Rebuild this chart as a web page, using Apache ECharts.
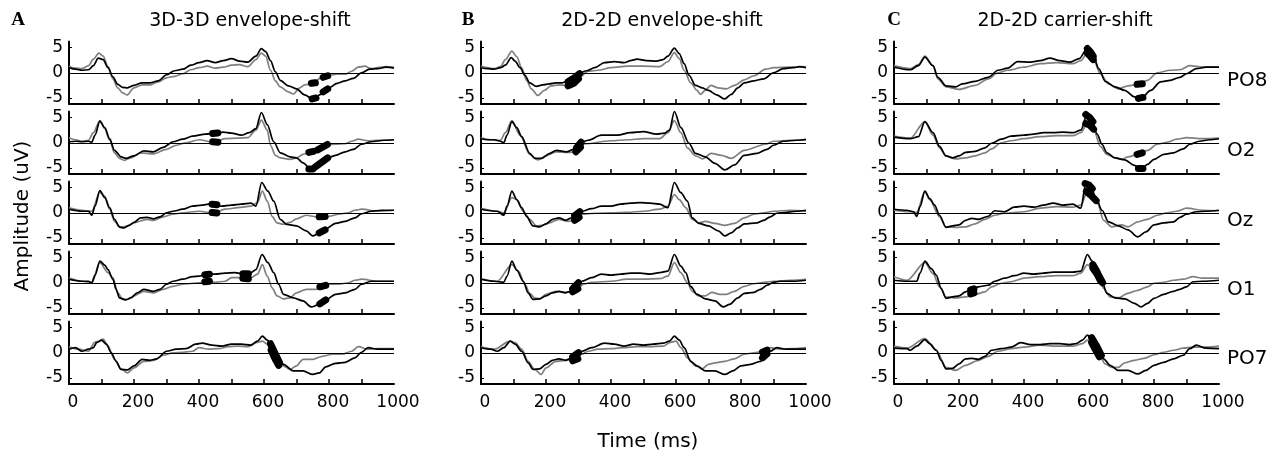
<!DOCTYPE html>
<html><head><meta charset="utf-8">
<script src="https://cdn.jsdelivr.net/npm/echarts@6/dist/echarts.min.js"></script>
<style>html,body{margin:0;padding:0;background:#fff}#c{width:1285px;height:455px}</style>
</head><body><div id="c"></div>
<script>
// ---------- DATA (time in ms, amplitude in uV) ----------
const columns = ['A','B','C'];
const columnTitles = ['3D-3D envelope-shift','2D-2D envelope-shift','2D-2D carrier-shift'];
const channels = ['PO8','O2','Oz','O1','PO7'];
const xTickValues = [100,200,300,400,500,600,700,800,900];
const xLabelValues = [0,200,400,600,800,1000];
const yTickValues = [-5,0,5];

// Column A
const A_PO8_k = [[0,1.0],[20,0.7],[40,0.5],[60,0.6],[75,1.4],[90,2.9],[105,2.6],[120,1.0],[135,-0.8],[150,-2.3],[165,-2.9],[180,-3.0],[200,-2.5],[225,-2.0],[250,-2.0],[275,-1.6],[300,-0.4],[325,0.4],[350,0.7],[375,1.5],[400,2.0],[425,2.4],[450,2.0],[475,2.4],[500,2.8],[525,2.3],[550,2.1],[575,3.3],[592,4.8],[605,4.2],[620,2.4],[635,0.2],[650,-1.5],[675,-2.6],[700,-3.2],[725,-4.4],[750,-5.2],[775,-4.3],[800,-3.0],[825,-2.1],[850,-1.6],[875,-1.1],[900,0],[925,0.7],[950,0.8],[975,1.1],[1000,0.9]];
const A_PO8_g = [[0,1.3],[20,0.9],[40,0.8],[60,1.4],[75,2.7],[92,3.9],[105,3.3],[120,1.2],[135,-1.2],[150,-3.0],[165,-4.0],[178,-4.4],[200,-3.0],[225,-2.4],[250,-2.4],[275,-1.8],[300,-1.0],[325,-0.7],[350,-0.2],[375,0.6],[400,1.0],[425,1.3],[450,0.9],[475,1.1],[500,1.5],[525,1.6],[550,1.2],[575,2.6],[592,3.9],[605,3.3],[620,0.5],[635,-1.6],[650,-2.8],[675,-3.8],[690,-4.2],[710,-3.0],[725,-2.4],[750,-2.1],[775,-1.0],[800,-0.5],[825,-0.3],[850,-0.3],[870,0.3],[890,1.1],[910,1.3],[930,0.8],[950,1.0],[975,1.2],[1000,1.1]];
const A_PO8_sig = [[[748,-5.2],[760,-5.0]],[[782,-3.8],[796,-3.2]],[[746,-2.1],[758,-2.0]],[[782,-0.9],[796,-0.6]]];

const A_O2_k = [[0,0.2],[20,0.3],[40,0.2],[60,0.3],[70,0.1],[80,1.5],[95,4.3],[110,3.0],[125,0.8],[140,-1.5],[160,-2.8],[175,-3.1],[200,-2.6],[230,-1.6],[260,-1.8],[290,-0.9],[320,0.2],[350,0.7],[380,1.3],[420,1.7],[450,1.9],[475,2.1],[500,1.9],[530,1.5],[555,2.0],[575,2.8],[592,6.0],[610,3.6],[630,0.2],[650,-2.0],[680,-2.8],[700,-3.0],[720,-4.0],[745,-5.3],[770,-4.3],[790,-3.2],[820,-2.5],[850,-1.8],[875,-1.3],[900,-0.3],[930,0.2],[970,0.5],[1000,0.6]];
const A_O2_g = [[0,1.0],[20,0.6],[40,0.3],[60,0.5],[75,2.0],[95,4.4],[110,2.8],[125,0.5],[140,-2.0],[155,-3.1],[170,-3.5],[190,-3.0],[220,-2.0],[260,-2.2],[300,-1.3],[330,-0.5],[360,0],[400,0.6],[445,0.1],[480,0.8],[520,0.9],[550,1.0],[575,2.5],[592,4.5],[610,2.5],[620,-0.5],[635,-2.5],[650,-3.0],[680,-3.3],[700,-3.0],[720,-2.3],[745,-1.8],[770,-1.3],[790,-0.4],[820,-0.3],[850,-0.2],[870,0.3],[890,0.7],[920,0.4],[950,0.5],[1000,0.6]];
const A_O2_sig = [[[442,1.85],[458,1.95]],[[442,0.2],[458,0.1]],[[738,-5.2],[750,-5.2]],[[758,-4.8],[796,-3.0]],[[738,-1.9],[752,-1.7]],[[765,-1.4],[795,-0.35]]];

const A_Oz_k = [[0,0.7],[40,0.3],[60,0.3],[70,-0.5],[80,1.3],[95,4.4],[110,3.0],[125,1.0],[140,-1.3],[155,-2.8],[170,-3.0],[185,-2.5],[200,-1.9],[220,-1.0],[240,-0.9],[260,-1.2],[280,-0.8],[300,0],[320,0.3],[350,0.7],[380,1.3],[410,1.5],[440,1.8],[470,1.3],[500,1.5],[530,1.7],[560,1.9],[575,1.3],[593,6.0],[612,4.3],[630,2.3],[650,-1.3],[670,-2.3],[700,-2.6],[730,-3.6],[750,-4.6],[770,-4.0],[790,-3.2],[820,-2.1],[850,-1.7],[880,-1.0],[900,-0.2],[930,0.3],[960,0.5],[1000,0.5]];
const A_Oz_g = [[0,1.0],[40,0.5],[70,0.3],[95,4.1],[110,3.3],[125,0.7],[140,-1.7],[160,-3.0],[180,-2.6],[200,-2.0],[240,-1.3],[260,-1.5],[290,-0.8],[320,-0.3],[350,0],[400,0.3],[445,-0.1],[480,0.7],[520,1.0],[560,1.3],[580,2.0],[595,4.3],[610,2.3],[625,-0.7],[640,-2.0],[660,-2.3],[680,-1.9],[700,-1.2],[730,-0.5],[760,-0.8],[780,-0.8],[800,-0.7],[830,-0.3],[860,0],[880,0.5],[900,0.7],[950,0.3],[1000,0.5]];
const A_Oz_sig = [[[440,1.7],[455,1.6]],[[440,0.05],[455,-0.05]],[[770,-4.0],[788,-3.4]],[[770,-0.8],[788,-0.75]]];

const A_O1_k = [[0,0.7],[40,0.3],[60,0.3],[70,0],[80,1.5],[95,4.3],[110,3.5],[120,2.6],[135,0.7],[145,-1.3],[155,-3.0],[175,-3.4],[190,-3.0],[210,-2.0],[230,-1.3],[260,-1.7],[280,-1.3],[300,-0.3],[320,0.3],[350,0.7],[380,1.2],[400,1.3],[425,1.7],[450,1.7],[480,1.9],[510,2.0],[540,1.7],[560,2.0],[575,2.6],[594,5.6],[612,4.0],[630,2.0],[645,-0.3],[660,-2.3],[690,-3.0],[720,-3.6],[745,-4.8],[770,-4.3],[790,-3.4],[820,-2.3],[850,-2.0],[880,-1.3],[900,-0.3],[930,0.3],[960,0.3],[1000,0.3]];
const A_O1_g = [[0,1.0],[40,0.3],[70,0],[95,4.0],[120,2.0],[135,1.0],[150,-2.0],[165,-3.3],[180,-3.3],[200,-2.6],[230,-1.7],[260,-2.0],[290,-1.3],[320,-0.7],[350,-0.3],[400,0],[425,0.3],[450,0.1],[480,0.3],[500,1.0],[530,1.0],[545,0.7],[560,1.0],[580,1.7],[595,3.6],[610,1.3],[625,-1.0],[640,-2.6],[660,-3.2],[680,-3.0],[700,-2.0],[730,-1.3],[760,-1.3],[780,-0.8],[800,-0.3],[830,-0.3],[860,0],[880,0.5],[900,0.7],[950,0.3],[1000,0.3]];
const A_O1_sig = [[[418,1.6],[432,1.7]],[[418,0.2],[432,0.3]],[[535,1.8],[552,1.8]],[[535,0.9],[552,0.8]],[[772,-4.2],[790,-3.4]],[[772,-0.8],[790,-0.5]]];

const A_PO7_k = [[0,0.7],[20,1.0],[40,0.3],[60,0.7],[75,1.0],[85,2.0],[100,2.5],[115,1.7],[130,0],[145,-1.7],[160,-3.3],[180,-3.4],[200,-2.6],[225,-1.3],[250,-1.5],[270,-1.2],[300,0.3],[330,0.7],[360,0.8],[390,1.7],[410,1.9],[440,1.5],[470,1.3],[500,1.7],[530,1.7],[560,1.5],[580,2.3],[595,3.3],[610,2.5],[625,1.3],[640,-1.3],[660,-2.3],[690,-3.6],[720,-3.6],[750,-4.3],[770,-4.0],[790,-2.8],[820,-2.1],[850,-1.9],[880,-1.0],[900,0.1],[920,1.0],[950,0.7],[1000,0.7]];
const A_PO7_g = [[0,1.2],[30,0.7],[60,0.3],[80,2.1],[95,2.3],[105,2.7],[120,1.3],[140,-1.3],[160,-3.2],[180,-4.0],[200,-3.0],[230,-1.7],[260,-1.5],[290,-0.5],[320,0],[350,0.1],[380,0.3],[400,1.0],[430,0.7],[460,0.8],[490,1.2],[520,1.3],[550,1.2],[575,2.0],[595,2.3],[610,1.7],[625,0],[640,-2.3],[660,-2.6],[680,-3.3],[700,-2.6],[720,-1.3],[750,-1.3],[780,-0.7],[810,-0.3],[840,-0.3],[870,0.3],[890,1.2],[920,0.7],[950,0.8],[1000,0.8]];
const A_PO7_sig = [[[620,1.8],[633,0.0],[648,-2.0]],[[622,0.5],[634,-1.2],[645,-2.5]]];

// Column B
const B_PO8_k = [[0,1.0],[20,0.8],[40,0.7],[60,1.0],[75,1.5],[93,3.0],[105,2.3],[120,1.0],[135,-0.5],[150,-2.0],[170,-2.7],[190,-2.4],[210,-2.2],[230,-2.0],[250,-2.0],[270,-1.6],[290,-0.7],[305,0],[325,0.4],[350,1.0],[380,2.0],[410,2.2],[440,2.0],[460,2.4],[480,2.7],[510,2.4],[540,2.3],[560,2.6],[575,3.3],[595,4.9],[610,3.8],[625,1.8],[640,-0.5],[660,-2.5],[680,-3.0],[700,-3.5],[725,-4.4],[750,-5.2],[770,-4.3],[790,-3.0],[810,-2.0],[840,-1.6],[870,-1.2],[900,0],[930,0.8],[960,1.0],[980,1.2],[1000,1.0]];
const B_PO8_g = [[0,1.4],[20,1.0],[40,0.8],[60,1.2],[75,2.6],[95,4.3],[110,3.2],[125,1.0],[140,-1.5],[155,-3.2],[175,-4.5],[195,-3.5],[215,-2.6],[240,-2.4],[260,-2.5],[280,-2.0],[300,-1.0],[330,0.3],[360,0.5],[400,1.0],[450,1.3],[500,1.3],[550,1.2],[575,2.2],[595,4.0],[610,2.8],[625,0.5],[645,-2.0],[665,-3.5],[675,-4.3],[690,-3.5],[707,-2.5],[730,-3.0],[754,-3.2],[780,-2.5],[810,-1.4],[840,-0.6],[876,0.7],[900,1.0],[950,1.1],[1000,1.2]];
const B_PO8_sig = [[[268,-1.8],[290,-0.9],[303,-0.2]],[[268,-2.6],[285,-2.1],[300,-1.2]]];

const B_O2_k = [[0,0.8],[20,0.6],[40,0.6],[60,0.3],[70,0],[80,1.5],[95,4.2],[110,3.0],[125,1.2],[150,-2.1],[165,-3.1],[186,-3.1],[212,-2.1],[232,-1.5],[263,-1.8],[293,-1.1],[308,0.1],[330,0.5],[370,1.5],[420,1.5],[460,2.0],[500,2.2],[540,1.7],[565,1.9],[580,2.5],[595,6.2],[615,3.0],[640,-0.1],[660,-2.1],[690,-2.8],[720,-4.1],[750,-5.4],[780,-4.4],[810,-2.5],[850,-2.1],[880,-1.3],[900,-0.5],[930,0.3],[970,0.5],[1000,0.7]];
const B_O2_g = [[0,1.0],[30,0.6],[60,0.5],[75,2.0],[95,4.4],[120,1.5],[150,-2.3],[175,-3.4],[200,-2.6],[230,-1.8],[270,-1.9],[290,-1.8],[305,-1.0],[320,-0.2],[400,0.4],[450,0.6],[500,0.8],[550,0.8],[575,2.0],[595,4.4],[615,2.0],[635,-1.0],[660,-2.6],[682,-3.2],[708,-2.1],[740,-2.5],[770,-3.1],[810,-1.5],[876,-0.3],[900,0.3],[950,0.5],[1000,0.5]];
const B_O2_sig = [[[294,-1.0],[308,0.1]],[[292,-1.8],[306,-0.9]]];

const B_Oz_k = [[0,0.7],[50,0.3],[70,-0.5],[80,1.3],[95,4.3],[110,2.6],[125,1.0],[140,-0.7],[160,-2.6],[180,-2.8],[200,-2.2],[220,-1.3],[240,-1.0],[260,-1.5],[280,-1.0],[295,-0.4],[310,0.3],[340,0.8],[370,1.3],[400,1.3],[430,1.7],[460,1.9],[490,2.0],[520,1.9],[550,1.7],[575,1.0],[595,6.0],[615,4.0],[635,2.3],[650,-1.0],[670,-2.1],[700,-2.6],[730,-3.6],[750,-4.6],[770,-4.0],[790,-3.0],[810,-2.2],[850,-2.0],[870,-1.5],[890,-0.8],[910,-0.1],[940,0.1],[970,0.3],[1000,0.5]];
const B_Oz_g = [[0,0.9],[50,0.3],[70,0],[95,3.0],[110,2.6],[130,0.3],[150,-1.3],[170,-2.6],[190,-2.5],[210,-2.0],[240,-1.3],[270,-1.7],[290,-1.4],[310,-0.3],[350,-0.1],[400,0],[450,0.1],[500,0.3],[550,0.7],[575,1.3],[595,3.6],[610,2.6],[630,1.0],[650,-1.3],[670,-2.0],[690,-1.7],[720,-2.1],[750,-2.5],[780,-2.1],[810,-1.0],[840,-0.3],[870,0],[900,0.3],[950,0.5],[1000,0.3]];
const B_Oz_sig = [[[288,-0.6],[304,0.2]],[[288,-1.5],[302,-0.9]]];

const B_O1_k = [[0,0.7],[40,0.3],[70,0.1],[80,1.3],[95,4.3],[110,2.5],[130,0.3],[145,-2.0],[160,-3.3],[180,-3.2],[200,-2.6],[220,-2.0],[240,-1.7],[260,-2.0],[275,-1.7],[290,-0.8],[310,0.3],[340,1.0],[370,1.7],[400,1.5],[430,1.7],[460,1.9],[490,1.9],[520,1.7],[550,2.0],[575,2.3],[595,5.6],[615,3.3],[630,2.0],[645,-0.7],[665,-2.3],[690,-3.2],[720,-3.6],[745,-4.8],[765,-4.3],[790,-3.0],[810,-2.1],[840,-1.9],[860,-1.3],[880,-0.5],[900,0.1],[920,0.3],[960,0.3],[1000,0.5]];
const B_O1_g = [[0,0.8],[50,0.3],[95,3.6],[115,2.3],[135,-0.3],[150,-2.1],[165,-3.0],[180,-3.2],[200,-2.3],[230,-1.7],[260,-1.9],[285,-1.7],[300,-1.1],[315,-0.3],[340,0.1],[400,0.3],[450,0.7],[500,0.7],[550,0.8],[575,1.3],[595,4.0],[615,2.0],[635,0],[650,-1.7],[670,-2.6],[690,-2.6],[710,-1.9],[735,-2.3],[755,-2.3],[780,-1.7],[810,-0.7],[840,-0.2],[870,0.1],[900,0.3],[950,0.5],[1000,0.7]];
const B_O1_sig = [[[282,-1.2],[300,0.0]],[[282,-1.8],[298,-1.2]]];

const B_PO7_k = [[0,1.0],[30,0.7],[50,0.3],[70,1.0],[90,2.3],[105,1.7],[125,0.3],[145,-2.0],[160,-3.3],[180,-3.2],[200,-2.3],[220,-1.5],[240,-1.2],[260,-1.5],[280,-1.0],[295,-0.4],[310,0.3],[340,1.0],[380,1.9],[410,1.7],[440,1.3],[470,1.7],[500,1.5],[530,1.7],[560,1.9],[580,2.3],[595,3.3],[610,2.5],[625,1.0],[645,-1.7],[665,-2.6],[690,-3.6],[720,-3.6],[750,-4.3],[775,-3.6],[800,-2.6],[830,-2.3],[860,-1.7],[875,-0.5],[890,0.3],[910,1.0],[940,0.7],[1000,0.7]];
const B_PO7_g = [[0,1.2],[40,0.7],[90,2.3],[105,2.0],[125,0.7],[145,-1.7],[165,-3.3],[185,-4.3],[200,-3.0],[230,-1.7],[260,-1.5],[280,-1.3],[295,-1.2],[310,-0.3],[330,0.3],[360,0.7],[400,0.8],[440,1.0],[480,1.2],[520,1.2],[560,1.3],[585,2.1],[600,2.3],[615,1.0],[635,-1.0],[660,-2.6],[680,-3.2],[700,-2.3],[720,-2.0],[750,-1.7],[780,-1.2],[810,-0.3],[840,0],[870,0.3],[890,1.0],[920,0.7],[960,0.8],[1000,1.0]];
const B_PO7_sig = [[[282,-0.8],[300,0.0]],[[282,-1.6],[298,-1.2]],[[866,-1.0],[880,-0.2]],[[866,0.1],[880,0.5]]];

// Column C
const C_PO8_k = [[0,1.1],[50,0.6],[75,1.4],[95,3.1],[120,1.4],[135,-0.9],[160,-2.6],[190,-2.8],[210,-2.2],[250,-1.7],[290,-0.9],[320,0.5],[350,0.9],[380,2.2],[420,2.1],[450,2.4],[480,2.9],[510,2.4],[540,2.1],[570,2.8],[595,4.9],[615,3.1],[630,0.8],[650,-1.7],[680,-2.8],[710,-3.5],[740,-4.8],[760,-5.1],[790,-3.5],[820,-1.8],[850,-1.5],[880,-0.9],[900,-0.2],[930,0.8],[960,1.1],[1000,1.1]];
const C_PO8_g = [[0,1.4],[50,0.8],[75,1.6],[95,3.3],[120,1.4],[135,-1.2],[160,-2.8],[200,-3.3],[250,-2.5],[290,-1.2],[320,0],[350,0.5],[400,1.1],[450,1.8],[500,2.0],[550,1.8],[575,2.4],[595,3.9],[615,2.4],[635,-0.2],[660,-2.2],[690,-3.2],[720,-2.6],[750,-2.3],[780,-1.5],[810,0],[850,0.5],[880,0.6],[910,1.4],[950,1.1],[1000,1.1]];
const C_PO8_sig = [[[595,4.8],[605,4.1],[613,3.3]],[[595,3.9],[605,3.2],[613,2.6]],[[752,-5.1],[766,-4.9]],[[748,-2.3],[764,-2.2]]];

const C_O2_k = [[0,1.1],[50,0.8],[75,1.2],[95,4.2],[120,2.0],[140,-0.7],[160,-2.6],[180,-3.0],[200,-2.6],[220,-1.9],[250,-1.7],[280,-1.0],[300,-0.1],[330,0.7],[360,1.3],[400,1.5],[430,1.7],[460,2.0],[490,2.0],[520,2.1],[550,2.0],[575,2.5],[595,5.8],[610,4.5],[625,1.7],[640,-0.3],[655,-2.0],[680,-3.0],[710,-3.4],[740,-4.5],[760,-5.3],[780,-4.3],[800,-3.3],[830,-2.3],[860,-2.0],[890,-1.2],[910,-0.3],[940,0.3],[970,0.6],[1000,0.8]];
const C_O2_g = [[0,1.3],[50,0.9],[95,4.2],[120,1.5],[140,-1.0],[160,-2.6],[190,-3.2],[220,-3.0],[250,-2.6],[280,-2.0],[300,-1.2],[330,0],[360,0.4],[400,0.8],[450,1.2],[500,1.4],[550,1.4],[575,2.0],[595,3.8],[615,2.5],[635,-0.7],[655,-2.3],[680,-3.0],[700,-3.3],[720,-2.8],[750,-2.3],[780,-1.5],[810,-0.3],[840,0.1],[870,0.7],[900,1.0],[950,0.8],[1000,0.9]];
const C_O2_sig = [[[590,5.6],[602,5.0],[612,4.2]],[[590,3.8],[602,3.5],[614,2.7]],[[752,-5.1],[766,-5.1]],[[748,-2.3],[764,-2.0]]];

const C_Oz_k = [[0,0.7],[40,0.5],[60,0.2],[70,-0.7],[80,1.2],[95,4.3],[110,2.8],[125,1.5],[140,-0.5],[160,-2.9],[180,-2.6],[200,-2.4],[220,-1.5],[240,-1.1],[260,-1.3],[290,-0.7],[310,0.4],[340,0.2],[370,1.1],[400,1.3],[430,1.1],[460,1.5],[490,1.9],[520,1.5],[550,1.7],[575,0.9],[590,5.8],[605,5.3],[620,3.2],[640,0.5],[660,-1.8],[690,-2.6],[720,-3.4],[750,-4.8],[775,-3.8],[800,-2.4],[830,-2.0],[860,-1.8],[880,-0.9],[900,-0.3],[930,0.2],[960,0.3],[1000,0.5]];
const C_Oz_g = [[0,0.5],[50,0.2],[70,0.1],[95,4.2],[110,2.6],[140,-0.8],[160,-2.8],[190,-2.9],[220,-2.8],[250,-2.2],[280,-1.3],[310,-0.5],[340,-0.1],[400,0.2],[450,0.9],[500,1.2],[550,1.1],[575,1.5],[595,4.2],[610,3.2],[625,2.2],[645,-1.5],[670,-2.8],[700,-2.4],[720,-2.8],[750,-1.8],[780,-1.3],[810,-0.5],[840,0],[870,0.3],[900,0.9],[950,0.5],[1000,0.4]];
const C_Oz_sig = [[[588,5.8],[600,5.5],[610,4.8]],[[592,4.2],[605,3.5],[622,2.4]]];

const C_O1_k = [[0,0.5],[40,0.3],[70,0.3],[80,1.9],[95,4.3],[115,2.8],[130,1.5],[145,-1.1],[160,-3.1],[180,-2.8],[200,-2.6],[220,-1.8],[240,-1.3],[260,-0.8],[290,-0.5],[310,0.3],[340,0.9],[370,1.4],[400,1.9],[430,1.7],[460,1.9],[490,2.1],[520,2.1],[550,2.1],[575,2.3],[595,5.6],[610,4.3],[622,2.5],[640,0.2],[655,-2.1],[680,-3.0],[710,-3.2],[740,-4.1],[760,-4.8],[780,-4.1],[800,-3.1],[830,-2.3],[860,-1.7],[880,-1.3],[900,-0.8],[920,0.2],[950,0.3],[1000,0.5]];
const C_O1_g = [[0,1.2],[40,0.5],[95,4.0],[120,1.8],[140,-0.8],[160,-2.8],[190,-3.0],[220,-2.8],[250,-2.3],[280,-1.8],[300,-0.8],[330,-0.1],[360,0.2],[400,0.9],[450,1.2],[500,1.4],[550,1.4],[575,1.9],[595,3.6],[615,2.5],[630,1.2],[645,-1.1],[665,-2.8],[690,-3.0],[720,-2.1],[750,-1.5],[780,-0.8],[800,-0.1],[830,0.1],[860,0.5],[890,0.7],[920,1.2],[950,0.9],[1000,0.9]];
const C_O1_sig = [[[236,-1.4],[246,-1.2]],[[236,-2.2],[246,-2.0]],[[612,3.6],[622,2.5],[632,1.2],[642,0.0]],[[612,2.9],[624,1.8],[636,0.3]]];

const C_PO7_k = [[0,0.9],[40,0.8],[50,0.5],[70,1.3],[95,2.6],[110,1.8],[130,0.5],[145,-1.5],[160,-3.2],[180,-3.1],[200,-2.2],[220,-1.2],[240,-1.1],[260,-1.3],[280,-0.7],[300,0.5],[330,0.8],[360,1.1],[390,2.0],[420,1.6],[450,1.6],[480,1.8],[510,1.8],[540,1.6],[560,1.8],[580,2.5],[595,3.5],[610,2.8],[625,1.1],[645,-1.2],[665,-2.5],[690,-3.5],[720,-3.5],[750,-4.2],[775,-3.5],[800,-2.5],[830,-1.9],[860,-1.2],[890,-0.5],[910,0.8],[930,1.5],[960,0.9],[1000,0.8]];
const C_PO7_g = [[0,1.3],[40,0.9],[95,2.8],[130,0.5],[160,-2.9],[190,-3.5],[220,-2.5],[260,-1.5],[290,-0.7],[320,0.3],[360,0.8],[400,1.1],[450,1.5],[500,1.3],[550,1.3],[580,1.8],[595,2.5],[610,1.8],[630,-0.2],[650,-2.2],[670,-2.9],[690,-2.9],[710,-2.0],[740,-1.5],[770,-1.1],[800,-0.4],[830,0.1],[860,0.5],[890,0.9],[920,1.1],[960,1.1],[1000,1.3]];
const C_PO7_sig = [[[608,3.0],[622,1.5],[638,-0.5]],[[608,2.0],[620,0.6],[632,-0.8]]];

// ---------- PANEL TABLE ----------
const panelTable = [
  [[A_PO8_k,A_PO8_g,A_PO8_sig],[A_O2_k,A_O2_g,A_O2_sig],[A_Oz_k,A_Oz_g,A_Oz_sig],[A_O1_k,A_O1_g,A_O1_sig],[A_PO7_k,A_PO7_g,A_PO7_sig]],
  [[B_PO8_k,B_PO8_g,B_PO8_sig],[B_O2_k,B_O2_g,B_O2_sig],[B_Oz_k,B_Oz_g,B_Oz_sig],[B_O1_k,B_O1_g,B_O1_sig],[B_PO7_k,B_PO7_g,B_PO7_sig]],
  [[C_PO8_k,C_PO8_g,C_PO8_sig],[C_O2_k,C_O2_g,C_O2_sig],[C_Oz_k,C_Oz_g,C_Oz_sig],[C_O1_k,C_O1_g,C_O1_sig],[C_PO7_k,C_PO7_g,C_PO7_sig]]
];

// ---------- LAYOUT ----------
const colLeft = [69, 481, 894];
const plotW = 325;
const rowTop = [41.5, 111.5, 181.5, 251.5, 321.5];
const plotH = 62.5;
const FONT = '"DejaVu Sans", "Liberation Sans", Arial, sans-serif';

const grids = [], xAxes = [], yAxes = [], series = [];
let idx = 0;
for (let c = 0; c < 3; c++) {
  for (let r = 0; r < 5; r++) {
    const [k, g, sig] = panelTable[c][r];
    grids.push({left: colLeft[c], top: rowTop[r], width: plotW, height: plotH});
    xAxes.push({
      type: 'value', gridIndex: idx, min: 0, max: 1000,
      axisLine: {show: true, onZero: false, lineStyle: {color: '#000', width: 2}},
      axisTick: {show: true, inside: true, length: 5, customValues: xTickValues, lineStyle: {color: '#000', width: 1.5}},
      axisLabel: {show: r === 4, customValues: xLabelValues, formatter: v => String(v), color: '#000', fontSize: 17, fontFamily: FONT, margin: 10, padding: [0, 0, 0, 8]},
      splitLine: {show: false}
    });
    yAxes.push({
      type: 'value', gridIndex: idx, min: -6.2, max: 6.2,
      axisLine: {show: true, onZero: false, lineStyle: {color: '#000', width: 2}},
      axisTick: {show: true, inside: true, length: 3, customValues: yTickValues, lineStyle: {color: '#000', width: 1}},
      axisLabel: {customValues: yTickValues, formatter: v => String(v), color: '#000', fontSize: 17, fontFamily: FONT, margin: 6},
      splitLine: {show: false}
    });
    series.push({
      type: 'line', xAxisIndex: idx, yAxisIndex: idx, data: g, symbol: 'none',
      smooth: 0.3, smoothMonotone: 'x', lineStyle: {color: '#7f7f7f', width: 1.7}, z: 2,
      markLine: {silent: true, symbol: 'none', label: {show: false}, animation: false,
        lineStyle: {color: '#000', width: 1.1, type: 'solid'}, data: [{yAxis: 0}]}
    });
    series.push({
      type: 'line', xAxisIndex: idx, yAxisIndex: idx, data: k, symbol: 'none',
      smooth: 0.3, smoothMonotone: 'x', lineStyle: {color: '#000', width: 1.7}, z: 3
    });
    sig.forEach(seg => {
      series.push({
        type: 'line', xAxisIndex: idx, yAxisIndex: idx, data: seg, symbol: 'none',
        lineStyle: {color: '#000', width: 7, cap: 'round', join: 'round'}, z: 4
      });
    });
    idx++;
  }
}

const titleX = [250, 662, 1065];
const letterX = [18, 468, 894];
const chanY = [81, 151, 221, 290, 359];
const graphics = [];
for (let c = 0; c < 3; c++) {
  graphics.push({type: 'text', x: titleX[c], y: 21, style: {text: columnTitles[c], fill: '#000', font: '19px ' + FONT, align: 'center', verticalAlign: 'middle'}});
  graphics.push({type: 'text', x: letterX[c], y: 20, style: {text: columns[c], fill: '#000', font: 'bold 19px "Liberation Serif", "Times New Roman", serif', align: 'center', verticalAlign: 'middle'}});
}
channels.forEach((ch, r) => {
  graphics.push({type: 'text', x: 1227, y: chanY[r], style: {text: ch, fill: '#000', font: '20px ' + FONT, align: 'left', verticalAlign: 'middle'}});
});
graphics.push({type: 'text', x: 23, y: 216, rotation: Math.PI / 2, style: {text: 'Amplitude (uV)', fill: '#000', font: '20px ' + FONT, align: 'center', verticalAlign: 'middle'}});
graphics.push({type: 'text', x: 648, y: 442, style: {text: 'Time (ms)', fill: '#000', font: '20px ' + FONT, align: 'center', verticalAlign: 'middle'}});

const chart = echarts.init(document.getElementById('c'), null, {renderer: 'canvas'});
chart.setOption({
  animation: false,
  backgroundColor: '#fff',
  grid: grids, xAxis: xAxes, yAxis: yAxes, series: series, graphic: graphics
});
</script>
</body></html>
